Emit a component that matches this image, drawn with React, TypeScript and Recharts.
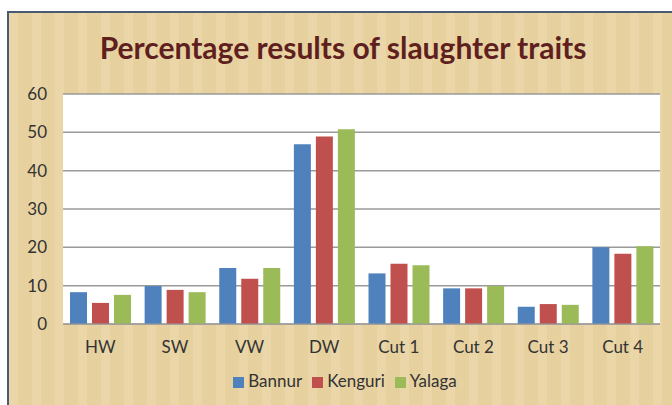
import { Bar, BarChart, CartesianGrid, Legend, XAxis, YAxis } from "recharts";

const categories = ["HW", "SW", "VW", "DW", "Cut 1", "Cut 2", "Cut 3", "Cut 4"];
const bannur = [8.3, 9.9, 14.6, 46.9, 13.2, 9.3, 4.5, 20.0];
const kenguri = [5.5, 8.9, 11.8, 48.9, 15.7, 9.3, 5.2, 18.3];
const yalaga = [7.6, 8.3, 14.6, 50.8, 15.3, 9.9, 5.0, 20.3];
const yTicks = [0, 10, 20, 30, 40, 50, 60];

const data = categories.map((name, i) => ({
  name,
  Bannur: bannur[i],
  Kenguri: kenguri[i],
  Yalaga: yalaga[i]
}));

const font = "Lato, 'Open Sans', sans-serif";
const tick = { fill: "#333", fontSize: 17, fontFamily: font };

export default function App() {
  return (
    <div style={{ position: "absolute", left: 0, top: 0, width: 672, height: 405, background: "#fff", overflow: "hidden" }}>
      <div
        style={{
          position: "absolute",
          left: 7,
          top: 11,
          width: 665,
          height: 394,
          borderTop: "2px solid #4b5a73",
          borderLeft: "2px solid #4b5a73",
          background:
            "repeating-linear-gradient(90deg, rgba(255,255,255,0.05) 0 9px, rgba(160,120,50,0.04) 9px 23px), #e9d4a3"
        }}
      />
      <div
        style={{
          position: "absolute",
          left: 0,
          top: 29,
          width: 686,
          textAlign: "center",
          fontFamily: font,
          fontWeight: 700,
          fontSize: 30,
          lineHeight: "36px",
          color: "#5e1f1e"
        }}
      >
        Percentage results of slaughter traits
      </div>
      <div style={{ position: "absolute", left: 0, top: 0 }}>
        <BarChart
          width={672}
          height={405}
          data={data}
          margin={{ top: 94, right: 12, left: 0, bottom: 51 }}
          barSize={17}
          barGap={5}
        >
          <CartesianGrid vertical={false} stroke="#9a9a9a" strokeWidth={1.5} fill="#ffffff" />
          <XAxis
            dataKey="name"
            height={30}
            tickLine={false}
            tickSize={0}
            tickMargin={17}
            stroke="#9a9a9a"
            tick={tick}
          />
          <YAxis
            width={63}
            domain={[0, 60]}
            ticks={yTicks}
            axisLine={false}
            tickLine={false}
            tickSize={0}
            tickMargin={16}
            tick={tick}
          />
          <Legend
            verticalAlign="middle"
            align="center"
            iconType="square"
            iconSize={11}
            wrapperStyle={{ top: 370, left: 14, width: 672, fontFamily: font, fontSize: 17 }}
            formatter={(value) => <span style={{ color: "#333" }}>{value}</span>}
          />
          <Bar dataKey="Bannur" fill="#4f81bd" isAnimationActive={false} />
          <Bar dataKey="Kenguri" fill="#c0504d" isAnimationActive={false} />
          <Bar dataKey="Yalaga" fill="#9bbb59" isAnimationActive={false} />
        </BarChart>
      </div>
    </div>
  );
}
